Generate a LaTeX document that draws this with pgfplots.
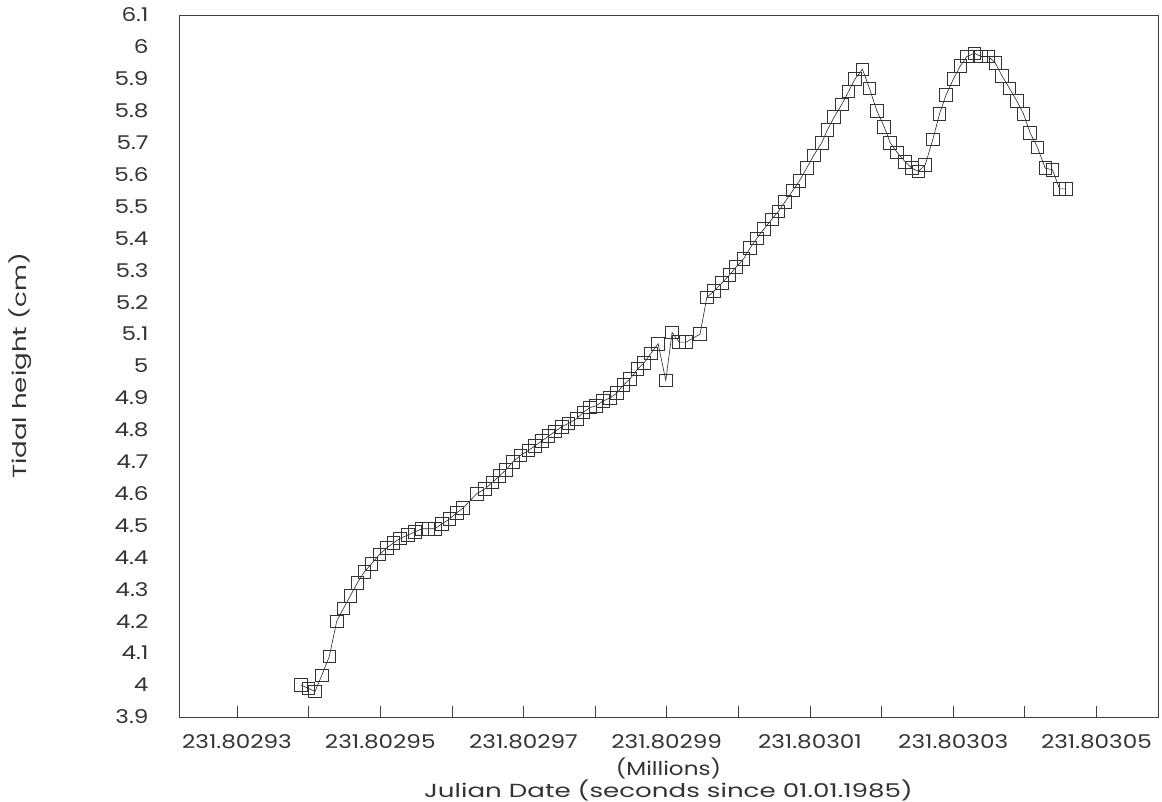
\documentclass[border=0pt]{standalone}
\usepackage{fontspec}
\setmainfont{Poppins}[FakeStretch=1.22]
\newfontfamily\widefont{Poppins}[FakeStretch=1.38]
\usepackage{pgfplots}
\pgfplotsset{compat=1.18}
\usepackage{pgfplotstable}
\pgfplotstableread{
x y
8.94 4.00
9.96 3.99
10.89 3.98
11.83 4.03
12.89 4.09
13.92 4.20
14.85 4.24
15.82 4.28
16.80 4.32
17.78 4.355
18.78 4.38
19.90 4.41
20.92 4.43
21.83 4.445
22.77 4.46
23.84 4.47
24.86 4.48
25.80 4.49
26.72 4.49
27.65 4.49
28.59 4.505
29.65 4.52
30.68 4.54
31.56 4.555
33.48 4.60
34.64 4.615
35.64 4.635
36.62 4.655
37.57 4.675
38.55 4.70
39.59 4.72
40.68 4.735
41.62 4.75
42.56 4.765
43.48 4.78
44.41 4.795
45.35 4.81
46.27 4.82
47.42 4.835
48.37 4.855
49.30 4.87
50.14 4.875
51.08 4.89
52.09 4.90
53.03 4.915
53.95 4.94
54.89 4.96
55.91 4.99
56.84 5.01
57.82 5.04
58.80 5.07
59.87 4.955
60.75 5.105
61.73 5.075
62.71 5.075
64.66 5.10
65.60 5.215
66.62 5.235
67.70 5.26
68.76 5.285
69.69 5.31
70.71 5.335
71.65 5.37
72.58 5.40
73.60 5.43
74.68 5.46
75.60 5.485
76.54 5.515
77.61 5.55
78.53 5.58
79.54 5.62
80.52 5.66
81.66 5.70
82.44 5.74
83.38 5.78
84.45 5.82
85.38 5.86
86.31 5.90
87.33 5.93
88.31 5.87
89.34 5.80
90.36 5.75
91.20 5.70
92.14 5.67
93.30 5.64
94.23 5.62
95.15 5.61
96.09 5.63
97.16 5.71
98.09 5.79
99.02 5.85
100.04 5.90
100.98 5.94
101.91 5.97
102.97 5.98
103.91 5.97
104.93 5.97
105.87 5.95
106.80 5.91
107.86 5.87
108.90 5.83
109.82 5.79
110.75 5.73
111.77 5.685
112.85 5.62
113.87 5.615
114.85 5.555
115.78 5.555
}\tidedata
\begin{document}
\begin{tikzpicture}
\useasboundingbox (-179bp,-85bp) rectangle (983bp,717bp);
\begin{axis}[
  at={(0,0)}, anchor=south west,
  scale only axis,
  width=979bp, height=702bp,
  xmin=-8.1, xmax=128.6,
  ymin=3.9, ymax=6.1,
  font=\fontsize{19}{22}\selectfont\color{black!80},
  /pgf/number format/assume math mode=true,
  axis line style={black!75, line width=0.9bp},
  xtick={0,20,40,60,80,100,120},
  xticklabels={231.80293,231.80295,231.80297,231.80299,231.80301,231.80303,231.80305},
  minor xtick={10,30,50,70,90,110},
  xtick pos=bottom,
  tick align=inside,
  major tick length=11bp, minor tick length=11bp,
  tick style={black!75, line width=0.6bp},
  xticklabel style={yshift=-14bp},
  ytick={3.9,4.0,4.1,4.2,4.3,4.4,4.5,4.6,4.7,4.8,4.9,5.0,5.1,5.2,5.3,5.4,5.5,5.6,5.7,5.8,5.9,6.0,6.1},
  yticklabels={3.9,4,4.1,4.2,4.3,4.4,4.5,4.6,4.7,4.8,4.9,5,5.1,5.2,5.3,5.4,5.5,5.6,5.7,5.8,5.9,6,6.1},
  ytick style={draw=none},
  yticklabel style={xshift=-27bp},
  xlabel={(Millions)\\{\widefont Julian Date (seconds since 01.01.1985)}},
  every axis x label/.style={at={(axis description cs:0.5,0)}, anchor=north, align=center, yshift=-37bp},
  ylabel={\widefont Tidal height (cm)},
  every axis y label/.style={at={(axis description cs:0,0.5)}, rotate=90, anchor=center, yshift=159bp},
]
\addplot[black!85, line width=0.6bp, mark=square, mark size=6.3bp,
  mark options={black!80, line width=0.8bp}] table[x=x, y=y] {\tidedata};
\end{axis}
\end{tikzpicture}
\end{document}
